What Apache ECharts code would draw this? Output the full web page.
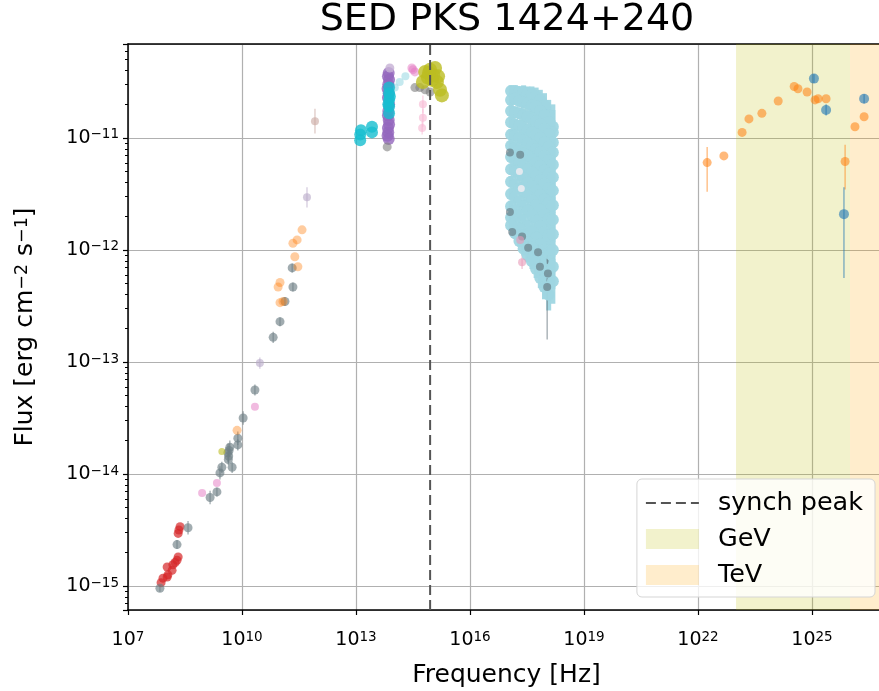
<!DOCTYPE html>
<html><head><meta charset="utf-8">
<script src="https://cdn.jsdelivr.net/npm/echarts@6/dist/echarts.min.js"></script>
<style>html,body{margin:0;padding:0;background:#fff}#c{width:879px;height:691px}</style>
</head><body><div id="c"></div>
<script>
// ---- axis ranges (log10 units) ----
const X_MIN = 7, X_MAX = 26.92;
const Y_MIN = -15.214, Y_MAX = -10.161;
const synchPeak = 14.95;
const gevBand = [23, 26];
const tevBand = [26, 26.92];

// ---- data: [log10 nu, log10 F, errDown, errUp] ----
const radioRed = [[7.87,-14.97],[7.92,-14.93],[8.03,-14.92],[8.05,-14.90],[8.16,-14.86],[8.18,-14.81],[8.03,-14.83],[8.24,-14.79],[8.29,-14.77],[8.32,-14.74],[8.34,-14.50],[8.37,-14.47],[8.32,-14.53]];
const radioGray = [[7.84,-15.02,0.03,0.03],[8.29,-14.63,0.04,0.04],[8.58,-14.48,0.06,0.06],[9.16,-14.21,0.06,0.06],[9.34,-14.16,0.04,0.04],[9.42,-13.99,0.06,0.06],[9.47,-13.94,0.05,0.05],[9.63,-13.81,0.08,0.08],[9.65,-13.84,0.06,0.06],[9.66,-13.79,0.06,0.06],[9.64,-13.87,0.05,0.05],[9.68,-13.76,0.06,0.06],[9.74,-13.94,0.05,0.05],[9.89,-13.68,0.06,0.06],[9.89,-13.74,0.05,0.05],[10.03,-13.50,0.06,0.06],[10.34,-13.25,0.05,0.05],[10.82,-12.78,0.05,0.05],[11.00,-12.64,0.04,0.04],[11.13,-12.46,0.04,0.04],[11.32,-12.16,0.04,0.04],[11.34,-12.33,0.04,0.04]];
const radioPink = [[8.95,-14.17],[9.34,-14.08],[10.34,-13.40]];
const radioLilac = [[10.47,-13.01,0.05,0.05],[11.71,-11.53,0.09,0.09]];
const radioBrown = [[11.92,-10.85,0.11,0.11]];
const radioOrange = [[11.58,-11.82],[11.45,-11.91],[11.34,-11.94],[11.39,-12.06],[11.47,-12.15],[11.00,-12.29],[10.95,-12.33],[11.00,-12.47],[11.08,-12.46],[9.87,-13.61]];
const radioOlive = [[9.47,-13.80]];

const optCyan = [[13.11,-10.97],[13.13,-10.93],[13.11,-11.02],[13.42,-10.90],[13.42,-10.95],[13.87,-10.55],[13.87,-10.60],[13.87,-10.66],[13.87,-10.72],[13.87,-10.78],[13.89,-10.63],[13.85,-10.70]];
const optPurple = [[13.86,-10.42],[13.84,-10.45],[13.87,-10.48],[13.85,-10.52],[13.83,-10.56],[13.86,-10.60],[13.84,-10.64],[13.87,-10.70],[13.85,-10.76],[13.84,-10.80],[13.86,-10.84],[13.87,-10.88],[13.84,-10.91],[13.85,-10.95],[13.83,-10.98],[13.86,-11.01]];
const optLilac = [[13.89,-10.375]];
const optOlive = [[14.82,-10.41],[14.95,-10.39],[15.03,-10.44],[14.89,-10.46],[15.13,-10.50],[15.21,-10.57],[14.76,-10.50],[15.08,-10.375],[15.16,-10.45],[15.00,-10.48],[14.92,-10.42],[15.26,-10.62]];
const optPink = [[14.47,-10.375],[14.55,-10.41],[14.50,-10.39]];
const optGray = [[14.55,-10.55],[14.68,-10.55],[14.82,-10.57],[14.95,-10.59],[13.82,-11.08]];
const optLightPink = [[14.76,-10.70,0.08,0.08],[14.76,-10.82,0.08,0.08],[14.74,-10.91,0.06,0.06]];
const optLightBlue = [[14.02,-10.55],[14.15,-10.50],[14.30,-10.45]];

// X-ray spectra (light cyan cloud)
const xrayNu = [17.08,17.19,17.30,17.41,17.52,17.63,17.74,17.85,17.96,18.07,18.18];
const xrayErr = [0.05,0.05,0.05,0.06,0.06,0.07,0.08,0.09,0.11,0.14,0.20];
const xraySpectra = [
  [-10.58,-10.58,-10.59,-10.59,-10.60,-10.61,-10.63,-10.66,-10.71,-10.80,-10.90],
  [-10.66,-10.65,-10.67,-10.68,-10.69,-10.71,-10.72,-10.76,-10.80,-10.86,-10.95],
  [-10.76,-10.77,-10.78,-10.80,-10.81,-10.83,-10.85,-10.88,-10.92,-10.97,-11.04],
  [-10.86,-10.88,-10.89,-10.91,-10.93,-10.95,-10.97,-11.00,-11.04,-11.08,-11.13],
  [-10.97,-10.98,-11.00,-11.02,-11.05,-11.07,-11.10,-11.13,-11.16,-11.20,-11.24],
  [-11.07,-11.09,-11.11,-11.14,-11.16,-11.19,-11.22,-11.25,-11.29,-11.32,-11.35],
  [-11.17,-11.20,-11.22,-11.25,-11.28,-11.31,-11.34,-11.38,-11.41,-11.45,-11.47],
  [-11.28,-11.30,-11.33,-11.36,-11.40,-11.43,-11.47,-11.51,-11.55,-11.58,-11.60],
  [-11.39,-11.42,-11.45,-11.48,-11.52,-11.56,-11.60,-11.64,-11.69,-11.72,-11.73],
  [-11.50,-11.53,-11.57,-11.61,-11.65,-11.69,-11.74,-11.79,-11.84,-11.87,-11.86],
  [-11.61,-11.65,-11.69,-11.74,-11.79,-11.84,-11.89,-11.95,-12.00,-12.03,-12.00],
  [-11.71,-11.76,-11.81,-11.87,-11.93,-11.98,-12.04,-12.11,-12.17,-12.20,-12.15],
  [-11.78,-11.85,-11.92,-11.99,-12.05,-12.10,-12.17,-12.25,-12.33,-12.40,-12.28]
];
const xrayGray = [[17.05,-11.13,0.04,0.04],[17.32,-11.15,0.04,0.04],[17.05,-11.66,0.05,0.05],[17.11,-11.84,0.05,0.05],[17.37,-11.88,0.05,0.05],[17.53,-11.98,0.06,0.06],[17.79,-12.02,0.07,0.07],[17.84,-12.15,0.08,0.08],[18.05,-12.21,0.12,0.12],[18.03,-12.33,0.47,0.30]];
const xrayPink = [[17.37,-12.11,0.06,0.06],[17.32,-11.91,0.05,0.05]];
const xrayLightPink = [[17.30,-11.30],[17.35,-11.45]];

const gamOrange = [[22.24,-11.22,0.26,0.14],[22.68,-11.16],[23.16,-10.95],[23.34,-10.83],[23.68,-10.78],[24.11,-10.67],[24.53,-10.54],[24.63,-10.56],[24.87,-10.59],[25.08,-10.66],[25.16,-10.65],[25.37,-10.65],[25.87,-11.21,0.25,0.15],[26.13,-10.90],[26.37,-10.81]];
const gamBlue = [[25.05,-10.47,0.04,0.04],[25.37,-10.75,0.05,0.05],[25.84,-11.68,0.57,0.24],[26.37,-10.65,0.04,0.04]];

// ---- helpers ----
const P = v => Math.pow(10, v);
const FONT = 'DejaVu Sans';
const xrayPts = [];
xraySpectra.forEach(s => s.forEach((f, i) => xrayPts.push([xrayNu[i], f, xrayErr[i], xrayErr[i]])));

const series = [];
function addBand(name, band, color) {
  series.push({name, type:'line', data:[], color, itemStyle:{color}, z:1,
    markArea:{silent:true, itemStyle:{color}, data:[[{xAxis:P(band[0])},{xAxis:P(band[1])}]]}});
}
function addGroup(pts, color, opacity, size, errW) {
  const eb = pts.filter(p => p.length > 2);
  if (eb.length) {
    series.push({type:'custom', silent:true, z:3, clip:true,
      renderItem:(params, api) => {
        const a = api.coord([api.value(0), api.value(1)]);
        const b = api.coord([api.value(0), api.value(2)]);
        return {type:'line', shape:{x1:a[0], y1:a[1], x2:b[0], y2:b[1]}, style:{stroke:color, lineWidth:errW||1.3, opacity:opacity}};
      },
      encode:{x:0, y:[1,2]},
      data: eb.map(p => [P(p[0]), P(p[1]-p[2]), P(p[1]+p[3])])});
  }
  series.push({type:'scatter', silent:true, z:4, symbolSize:size,
    itemStyle:{color, opacity},
    data: pts.map(p => [P(p[0]), P(p[1])])});
}

addBand('GeV', gevBand, 'rgba(191,191,0,0.2)');
addBand('TeV', tevBand, 'rgba(255,165,0,0.2)');

addGroup(radioRed, '#d62728', 0.7, 9);
addGroup(radioGray, '#6f7f86', 0.65, 9);
addGroup(radioPink, '#e377c2', 0.5, 8);
addGroup(radioLilac, '#b8a8c8', 0.6, 8);
addGroup(radioBrown, '#c9a7a0', 0.6, 8);
addGroup(radioOrange, '#ff7f0e', 0.4, 9);
addGroup(radioOlive, '#bcbd22', 0.6, 7);

addGroup(xrayPts, '#9fd6e2', 0.95, 12, 5);
addGroup(xrayGray, '#5f6f78', 0.6, 8);
addGroup(xrayPink, '#e89ab8', 0.6, 8);
addGroup(xrayLightPink, '#f4eef2', 0.8, 7);

addGroup(optLightBlue, '#9edae5', 0.6, 8);
addGroup(optPurple, '#9467bd', 0.8, 12);
addGroup(optCyan, '#17becf', 0.8, 12);
addGroup(optLilac, '#c5b0d5', 0.8, 9);
addGroup(optPink, '#e377c2', 0.5, 9);
addGroup(optGray, '#7f7f7f', 0.6, 9);
addGroup(optLightPink, '#f7b6d2', 0.6, 8);
addGroup(optOlive, '#bcbd22', 0.8, 14);

addGroup(gamOrange, '#ff7f0e', 0.55, 9);
addGroup(gamBlue, '#1f77b4', 0.6, 10);

series.push({name:'synch peak', type:'line', z:6, symbol:'none', silent:true, color:'#555',
  lineStyle:{color:'#555', width:2, type:[10,5]},
  data:[[P(synchPeak), P(Y_MIN)], [P(synchPeak), P(Y_MAX)]]});

// minor ticks on y (2..9 x 10^n)
const minorY = [];
for (let n = -16; n <= -11; n++) for (let k = 2; k <= 9; k++) { const v = k*Math.pow(10,n); if (v > P(Y_MIN) && v < P(Y_MAX)) minorY.push(v); }

const supFmt = v => {
  const e = Math.log10(v);
  if (Math.abs(e - Math.round(e)) > 0.01) return '';
  const r = Math.round(e);
  return '{b|10}{s|' + (r < 0 ? '\u2212' + (-r) : r) + '}';
};
const tickRich = {
  b:{fontSize:19, fontFamily:FONT, color:'#000', verticalAlign:'bottom', lineHeight:20},
  s:{fontSize:13.5, fontFamily:FONT, color:'#000', verticalAlign:'top', lineHeight:14, padding:[0,0,14,0]}
};

const chart = echarts.init(document.getElementById('c'), null, {renderer:'canvas'});
chart.setOption({
  animation:false,
  backgroundColor:'#fff',
  title:{text:'SED PKS 1424+240', left:502, textAlign:'center', top:-4, textStyle:{fontFamily:FONT, fontSize:38, fontWeight:'normal', color:'#000'}},
  grid:{left:128, width:757, top:44, bottom:81, outerBoundsMode:'none', containLabel:false},
  legend:{orient:'vertical', right:4, bottom:94, itemWidth:53, itemHeight:20, itemGap:10,
    backgroundColor:'rgba(255,255,255,0.8)', borderColor:'#d5d5d5', borderWidth:1, borderRadius:5,
    padding:[11,12,9,8],
    textStyle:{fontFamily:FONT, fontSize:25.5, color:'#000', padding:[0,0,0,14], lineHeight:22},
    data:[{name:'synch peak', itemStyle:{opacity:0}}, {name:'GeV', icon:'rect'}, {name:'TeV', icon:'rect'}]},
  xAxis:[{type:'log', logBase:10, min:P(X_MIN), max:P(X_MAX), interval:3,
    name:'Frequency [Hz]', nameLocation:'middle', nameGap:51,
    nameTextStyle:{fontFamily:FONT, fontSize:25, color:'#000'},
    axisLine:{lineStyle:{color:'#000', width:1.5}},
    axisTick:{length:5, lineStyle:{color:'#000', width:1.2}},
    axisLabel:{margin:20, formatter:supFmt, rich:tickRich},
    splitLine:{show:true, lineStyle:{color:'#b0b0b0', width:1.2}},
    minorTick:{show:false}},
   {type:'value', position:'top', min:0, max:1, axisLine:{show:true, onZero:false, lineStyle:{color:'#000', width:1.5}},
    axisTick:{show:false}, axisLabel:{show:false}, splitLine:{show:false}}],
  yAxis:[{type:'log', logBase:10, min:P(Y_MIN), max:P(Y_MAX),
    name:'Flux [erg cm{s|\u22122} s{s|\u22121}]', nameLocation:'middle', nameGap:90, nameRotate:90,
    nameTextStyle:{fontFamily:FONT, fontSize:25, color:'#000',
      rich:{s:{fontSize:17.5, fontFamily:FONT, color:'#000', verticalAlign:'top', lineHeight:18, padding:[0,0,10,0]}}},
    axisLine:{lineStyle:{color:'#000', width:1.5}},
    axisTick:{length:5, lineStyle:{color:'#000', width:1.2}},
    axisLabel:{margin:9, formatter:supFmt, rich:tickRich},
    splitLine:{show:true, lineStyle:{color:'#b0b0b0', width:1.2}}},
   {type:'log', logBase:10, min:P(Y_MIN), max:P(Y_MAX), position:'left',
    axisLine:{show:false}, axisLabel:{show:false}, splitLine:{show:false},
    axisTick:{show:true, length:3, customValues:minorY, lineStyle:{color:'#000', width:1}}}],
  series
});
</script></body></html>
